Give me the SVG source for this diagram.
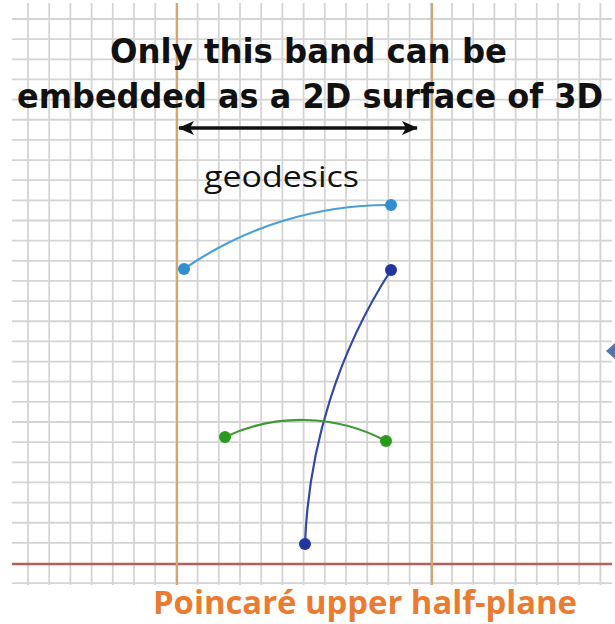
<svg xmlns="http://www.w3.org/2000/svg" width="615" height="624" viewBox="0 0 615 624">
<style>
.grid line{stroke:#d4d4d4;stroke-width:1.8}
.band{stroke:#d6a66f;stroke-width:2.2}
.title{font-family:"DejaVu Sans",sans-serif;font-weight:bold;font-size:33px;fill:#111}
.lbl{font-family:"Open Sans","Noto Sans",sans-serif;font-size:29px;fill:#111}
.foot{font-family:"Open Sans","DejaVu Sans",sans-serif;font-weight:bold;font-size:32px;fill:#e97c30}
.geo{fill:none;stroke-width:2.2}
</style>
<defs>
<marker id="ah" viewBox="0 0 16 14" refX="15" refY="7" markerWidth="16" markerHeight="14" markerUnits="userSpaceOnUse" orient="auto-start-reverse">
<path d="M0,0 L16,7 L0,14 L4,7 Z" fill="#111"/>
</marker>
</defs>
<rect width="615" height="624" fill="#fff"/>
<g id="grid" class="grid">
<line x1="28" y1="3" x2="28" y2="585"/><line x1="49.2" y1="3" x2="49.2" y2="585"/><line x1="70.4" y1="3" x2="70.4" y2="585"/><line x1="91.6" y1="3" x2="91.6" y2="585"/><line x1="112.8" y1="3" x2="112.8" y2="585"/><line x1="134" y1="3" x2="134" y2="585"/><line x1="155.2" y1="3" x2="155.2" y2="585"/><line x1="176.4" y1="3" x2="176.4" y2="585"/><line x1="197.6" y1="3" x2="197.6" y2="585"/><line x1="218.8" y1="3" x2="218.8" y2="585"/><line x1="240" y1="3" x2="240" y2="585"/><line x1="261.2" y1="3" x2="261.2" y2="585"/><line x1="282.4" y1="3" x2="282.4" y2="585"/><line x1="303.6" y1="3" x2="303.6" y2="585"/><line x1="324.8" y1="3" x2="324.8" y2="585"/><line x1="346" y1="3" x2="346" y2="585"/><line x1="367.2" y1="3" x2="367.2" y2="585"/><line x1="388.4" y1="3" x2="388.4" y2="585"/><line x1="409.6" y1="3" x2="409.6" y2="585"/><line x1="430.8" y1="3" x2="430.8" y2="585"/><line x1="452" y1="3" x2="452" y2="585"/><line x1="473.2" y1="3" x2="473.2" y2="585"/><line x1="494.4" y1="3" x2="494.4" y2="585"/><line x1="515.6" y1="3" x2="515.6" y2="585"/><line x1="536.8" y1="3" x2="536.8" y2="585"/><line x1="558" y1="3" x2="558" y2="585"/><line x1="579.2" y1="3" x2="579.2" y2="585"/><line x1="600.4" y1="3" x2="600.4" y2="585"/>
<line x1="12" y1="19" x2="612" y2="19"/><line x1="12" y1="39.15" x2="612" y2="39.15"/><line x1="12" y1="59.3" x2="612" y2="59.3"/><line x1="12" y1="79.45" x2="612" y2="79.45"/><line x1="12" y1="99.6" x2="612" y2="99.6"/><line x1="12" y1="119.75" x2="612" y2="119.75"/><line x1="12" y1="139.9" x2="612" y2="139.9"/><line x1="12" y1="160.05" x2="612" y2="160.05"/><line x1="12" y1="180.2" x2="612" y2="180.2"/><line x1="12" y1="200.35" x2="612" y2="200.35"/><line x1="12" y1="220.5" x2="612" y2="220.5"/><line x1="12" y1="240.65" x2="612" y2="240.65"/><line x1="12" y1="260.8" x2="612" y2="260.8"/><line x1="12" y1="280.95" x2="612" y2="280.95"/><line x1="12" y1="301.1" x2="612" y2="301.1"/><line x1="12" y1="321.25" x2="612" y2="321.25"/><line x1="12" y1="341.4" x2="612" y2="341.4"/><line x1="12" y1="361.55" x2="612" y2="361.55"/><line x1="12" y1="381.7" x2="612" y2="381.7"/><line x1="12" y1="401.85" x2="612" y2="401.85"/><line x1="12" y1="422" x2="612" y2="422"/><line x1="12" y1="442.15" x2="612" y2="442.15"/><line x1="12" y1="462.3" x2="612" y2="462.3"/><line x1="12" y1="482.45" x2="612" y2="482.45"/><line x1="12" y1="502.6" x2="612" y2="502.6"/><line x1="12" y1="522.75" x2="612" y2="522.75"/><line x1="12" y1="542.9" x2="612" y2="542.9"/><line x1="12" y1="583.2" x2="612" y2="583.2"/>
</g>
<g id="axis">
<line x1="12" y1="564" x2="612" y2="564" stroke="#b5605a" stroke-width="2.4"/>
</g>
<g id="band">
<line class="band" x1="177" y1="3" x2="177" y2="585"/>
<line class="band" x1="432" y1="3" x2="432" y2="585"/>
</g>
<g id="title">
<text class="title" x="110" y="63" textLength="397" lengthAdjust="spacingAndGlyphs">Only this band can be</text>
<text class="title" x="17" y="108" textLength="586" lengthAdjust="spacingAndGlyphs">embedded as a 2D surface of 3D</text>
</g>
<g id="connectors">
<line x1="179" y1="128" x2="417" y2="128" stroke="#111" stroke-width="3.5" marker-start="url(#ah)" marker-end="url(#ah)"/>
</g>
<g id="geodesics-label">
<text class="lbl" x="204" y="187" textLength="155" lengthAdjust="spacingAndGlyphs">geodesics</text>
</g>
<g id="geodesic-lightblue">
<path class="geo" stroke="#4a9fd5" d="M184,269 A359,359 0 0 1 391,205"/>
<circle cx="184" cy="269" r="6" fill="#2f8fd0"/>
<circle cx="391" cy="205" r="6" fill="#2f8fd0"/>
</g>
<g id="geodesic-darkblue">
<path class="geo" stroke="#3048a8" d="M391,270 A543.4,543.4 0 0 0 305,544"/>
<circle cx="391" cy="270" r="6" fill="#2236a0"/>
<circle cx="305" cy="544" r="6" fill="#2236a0"/>
</g>
<g id="geodesic-green">
<path class="geo" stroke="#3f9a35" d="M225,437 A180,180 0 0 1 386,441"/>
<circle cx="225" cy="437" r="6" fill="#2a9a1e"/>
<circle cx="386" cy="441" r="6" fill="#2a9a1e"/>
</g>
<g id="edge-marker">
<polygon points="606,351 615,343 615,359" fill="#4a78b8"/>
</g>
<g id="footer">
<text class="foot" x="153" y="614" textLength="424" lengthAdjust="spacingAndGlyphs">Poincaré upper half-plane</text>
</g>
</svg>
